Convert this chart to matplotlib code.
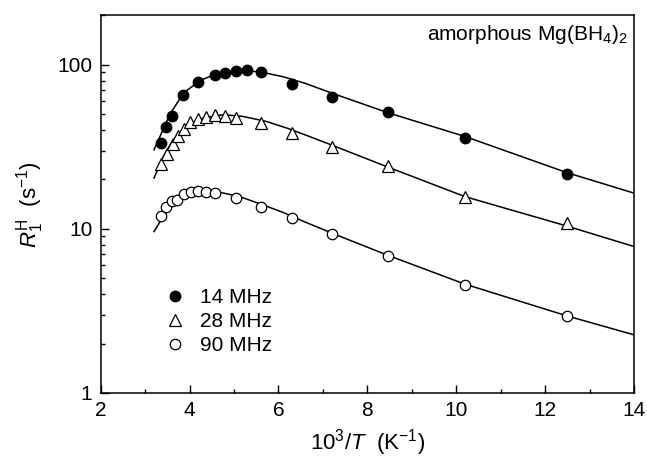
#!/usr/bin/env python
# Proton spin-lattice relaxation rate of amorphous Mg(BH4)2 vs inverse temperature.

import matplotlib
matplotlib.use("Agg")
import matplotlib.pyplot as plt
from matplotlib.ticker import LogLocator, MultipleLocator, NullFormatter, FixedLocator, FixedFormatter

plt.rcParams['font.family'] = ['Liberation Sans', 'DejaVu Sans']
plt.rcParams['mathtext.fontset'] = 'custom'
plt.rcParams['mathtext.rm'] = 'Liberation Sans'
plt.rcParams['mathtext.it'] = 'Liberation Sans:italic'

x_14 = [3.35, 3.47, 3.60, 3.86, 4.19, 4.57, 4.79, 5.04, 5.29, 5.60, 6.31, 7.21, 8.46, 10.20, 12.49]
r_14 = [33.3, 41.7, 48.4, 65.6, 78.4, 86.5, 89.0, 91.5, 93.2, 90.3, 76.6, 63.5, 51.2, 35.7, 21.6]

x_28 = [3.35, 3.50, 3.62, 3.74, 3.88, 4.02, 4.19, 4.38, 4.57, 4.79, 5.04, 5.60, 6.31, 7.21, 8.46, 10.20, 12.49]
r_28 = [24.9, 28.5, 33.0, 36.9, 40.5, 44.9, 46.6, 48.0, 49.1, 48.4, 47.5, 44.1, 38.3, 31.6, 24.2, 15.6, 10.8]

x_90 = [3.35, 3.48, 3.60, 3.72, 3.87, 4.03, 4.20, 4.38, 4.58, 5.04, 5.60, 6.31, 7.21, 8.46, 10.20, 12.49]
r_90 = [12.05, 13.5, 14.8, 15.0, 16.3, 16.8, 16.9, 16.8, 16.5, 15.4, 13.5, 11.7, 9.26, 6.87, 4.56, 2.95]

# Fit curves.
fit_x_14 = [3.20, 3.40, 3.56, 3.86, 4.23, 4.61, 5.06, 5.58, 6.10, 6.60, 7.21, 8.46, 10.20, 12.49, 14.0]
fit_r_14 = [30.3, 40.0, 50.0, 67.0, 80.0, 88.0, 92.3, 90.5, 84.5, 77.0, 67.0, 51.0, 36.5, 22.0, 16.5]

fit_x_28 = [3.20, 3.41, 3.63, 3.93, 4.31, 4.76, 5.20, 5.73, 6.20, 6.70, 7.21, 8.46, 10.20, 12.49, 14.0]
fit_r_28 = [20.4, 27.6, 34.9, 42.0, 47.3, 49.6, 48.4, 45.1, 41.0, 36.5, 32.3, 23.8, 15.7, 10.4, 7.8]

fit_x_90 = [3.20, 3.41, 3.63, 3.93, 4.31, 4.68, 5.13, 5.65, 6.10, 6.60, 7.21, 8.46, 10.20, 12.49, 14.0]
fit_r_90 = [9.63, 11.9, 14.0, 16.1, 16.9, 16.7, 15.7, 14.0, 12.6, 11.0, 9.4, 6.9, 4.6, 2.95, 2.26]

fig = plt.figure(figsize=(6.47, 4.59), dpi=100)
ax = fig.add_axes([0.1556, 0.1438, 0.8244, 0.8229])

for fx, fr in [(fit_x_14, fit_r_14), (fit_x_28, fit_r_28), (fit_x_90, fit_r_90)]:
    ax.plot(fx, fr, color='black', lw=1.1)

ax.plot(x_14, r_14, 'o', ms=7.5, mfc='black', mec='black', ls='none', label='14 MHz')
ax.plot(x_28, r_28, '^', ms=8.5, mfc='white', mec='black', mew=0.9, ls='none', label='28 MHz')
ax.plot(x_90, r_90, 'o', ms=7.5, mfc='white', mec='black', mew=0.9, ls='none', label='90 MHz')

ax.set_yscale('log')
ax.set_xlim(2, 14)
ax.set_ylim(1, 200)
ax.xaxis.set_major_locator(MultipleLocator(2))
ax.xaxis.set_minor_locator(MultipleLocator(1))
ax.yaxis.set_major_locator(FixedLocator([1, 10, 100]))
ax.yaxis.set_major_formatter(FixedFormatter(['1', '10', '100']))
ax.yaxis.set_minor_locator(LogLocator(base=10, subs=range(2, 10)))
ax.yaxis.set_minor_formatter(NullFormatter())

ax.tick_params(which='both', direction='in', top=False, right=False, labelsize=15, width=1, pad=6)
ax.tick_params(which='major', length=6)
ax.tick_params(which='minor', length=3)
for s in ax.spines.values():
    s.set_linewidth(1.1)

ax.set_xlabel(r'10$^3$/$T$  (K$^{-1}$)', fontsize=16, labelpad=5)
ax.set_ylabel(r'$R_1^{\rm H}$  (s$^{-1}$)', fontsize=16, labelpad=8)

ax.text(0.988, 0.95, r'amorphous Mg(BH$_4$)$_2$', transform=ax.transAxes,
        ha='right', va='center', fontsize=15)

ax.legend(loc='lower left', bbox_to_anchor=(0.08, 0.05), frameon=False,
          fontsize=15, handletextpad=0.6, labelspacing=0.25, handlelength=1.2)

plt.savefig('out.png', dpi=100)
